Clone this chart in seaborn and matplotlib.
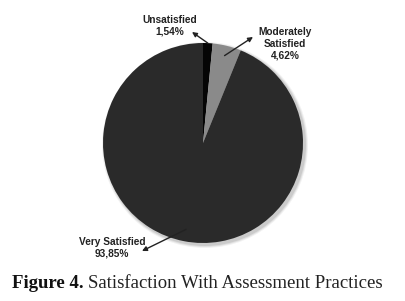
import numpy as np
import matplotlib
matplotlib.use('Agg')
import matplotlib.pyplot as plt
from matplotlib.patches import Circle
import seaborn as sns

# Data
categories = ["Unsatisfied", "Moderately\nSatisfied", "Very Satisfied"]
percents = [1.54, 4.62, 93.85]
pct_labels = ["1,54%", "4,62%", "93,85%"]

colors = ["#050505", "#8a8a8a", "#2a2a2a"]

sns.set_theme(style="white")
plt.rcParams['font.family'] = ['Liberation Sans Narrow', 'Liberation Sans', 'DejaVu Sans']

fig = plt.figure(figsize=(4.06, 3.01), dpi=100)
ax = fig.add_axes([0, 0, 1, 1])

center = (203, 158)
radius = 100

# soft shadow behind the pie
for i, a in enumerate([0.05, 0.07, 0.09]):
    ax.add_patch(Circle((center[0] + 2, center[1] - 2), radius + 3 - i,
                        color="black", alpha=a, lw=0, zorder=0))

wedges, _ = ax.pie(percents, colors=colors, startangle=90, counterclock=False,
                   center=center, radius=radius,
                   wedgeprops=dict(linewidth=0))
ax.set_xlim(0, 406)
ax.set_ylim(0, 301)
ax.set_aspect('equal')
ax.axis('off')

# label placement: text position, arrow head, radial fraction of arrow tail
label_pos = [(170, 275), (285, 257), (112, 53)]
arrow_head = [(192, 269), (253, 264), (142, 50)]
tail_frac = [1.0, 0.9, 0.88]

for w, cat, pct, tp, head, fr in zip(wedges, categories, pct_labels,
                                       label_pos, arrow_head, tail_frac):
    mid = np.deg2rad((w.theta1 + w.theta2) / 2)
    tail = (center[0] + fr * radius * np.cos(mid),
            center[1] + fr * radius * np.sin(mid))
    ax.text(tp[0], tp[1], f"{cat}\n{pct}", ha="center", va="center",
            fontsize=7.3, fontweight="bold", color="#222222", linespacing=1.25)
    ax.annotate("", xy=head, xytext=tail,
                arrowprops=dict(arrowstyle="-|>", color="#222222", lw=1.0,
                                mutation_scale=7, shrinkA=0, shrinkB=0))

# caption
cap_y = 1 - 283 / 301
t1 = fig.text(12 / 406, cap_y, "Figure 4.", fontsize=13.5, fontweight="bold",
              family="Liberation Serif", va="center", color="#111111")
fig.canvas.draw()
bb = t1.get_window_extent()
x2 = bb.x1 / fig.bbox.width + 4 / 406
fig.text(x2, cap_y, "Satisfaction With Assessment Practices", fontsize=13.5,
         family="Liberation Serif", va="center", color="#222222")

fig.savefig("out.png", dpi=100)
